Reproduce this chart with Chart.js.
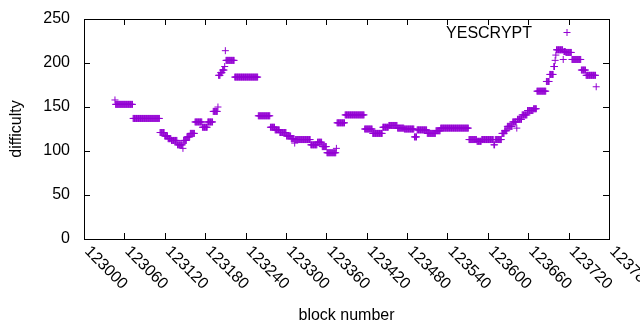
<!DOCTYPE html>
<html>
<head>
<meta charset="utf-8">
<script src="https://cdn.jsdelivr.net/npm/chart.js@4.4.1/dist/chart.umd.min.js"></script>
<style>
  html, body { margin: 0; padding: 0; background: #fff; }
</style>
</head>
<body>
<canvas id="myChart" width="640" height="330"></canvas>
<script>
const getElement = (...queries) => document.querySelector(...queries);
const ctx = getElement('#myChart').getContext('2d');

const seriesName = 'YESCRYPT';
const blockTicks = [123000, 123060, 123120, 123180, 123240, 123300, 123360, 123420, 123480, 123540, 123600, 123660, 123720, 123780];
const difficultyTicks = [0, 50, 100, 150, 200, 250];

// difficulty stays flat between retargets, so the data is kept as runs of blocks
const runFirst = [123046, 123047, 123073, 123113, 123120, 123125, 123130, 123139, 123147, 123148,
  123153, 123158, 123165, 123176, 123184, 123192, 123199, 123200, 123203, 123206,
  123209, 123210, 123211, 123224, 123259, 123277, 123284, 123291, 123301, 123308,
  123313, 123314, 123337, 123347, 123354, 123361, 123375, 123376, 123388, 123417,
  123429, 123444, 123453, 123466, 123476, 123491, 123495, 123510, 123523, 123530,
  123572, 123584, 123591, 123609, 123611, 123621, 123625, 123629, 123637, 123643,
  123644, 123651, 123659, 123668, 123673, 123687, 123692, 123698, 123700, 123701,
  123702, 123712, 123713, 123716, 123725, 123739, 123746, 123761];
const runLast = [123046, 123072, 123112, 123119, 123124, 123129, 123138, 123146, 123147, 123152,
  123157, 123164, 123175, 123183, 123191, 123198, 123199, 123202, 123205, 123208,
  123209, 123210, 123223, 123258, 123276, 123283, 123290, 123300, 123307, 123312,
  123313, 123336, 123346, 123353, 123360, 123374, 123375, 123387, 123416, 123428,
  123443, 123452, 123465, 123475, 123490, 123494, 123509, 123522, 123529, 123571,
  123583, 123590, 123608, 123610, 123620, 123624, 123628, 123636, 123642, 123643,
  123650, 123658, 123667, 123672, 123686, 123691, 123697, 123699, 123700, 123701,
  123711, 123712, 123715, 123724, 123738, 123745, 123760, 123761];
const runDifficulty = [158, 153, 137, 121, 117, 114, 112, 107, 103, 112,
  116, 120, 133, 127, 133, 145, 150, 186, 189, 192,
  196, 214, 203, 184, 140, 127, 124, 121, 117, 114,
  109, 113, 107, 110, 105, 98, 103, 132, 141, 125,
  120, 127, 129, 126, 125, 116, 124, 120, 123, 126,
  113, 111, 113, 107, 113, 120, 123, 128, 133, 126,
  136, 141, 146, 148, 168, 179, 187, 196, 203, 209,
  215, 204, 213, 212, 204, 192, 186, 173];

const points = [];
runFirst.forEach((first, i) => {
  for (let block = first; block <= runLast[i]; block++) {
    points.push({ x: block, y: runDifficulty[i] });
  }
});

const fontFamily = '"Liberation Sans", Arial, sans-serif';
const violet = '#9400d3';

// gnuplot style frame: border, inward ticks on all sides, rotated x labels, key
const gnuplotFrame = {
  id: 'gnuplotFrame',
  afterDraw(chart) {
    const { ctx, chartArea: a, scales: { x, y } } = chart;
    ctx.save();
    ctx.strokeStyle = '#000';
    ctx.lineWidth = 1;
    ctx.strokeRect(a.left + 0.5, a.top + 0.5, a.right - a.left, a.bottom - a.top);

    ctx.beginPath();
    x.ticks.forEach(t => {
      const px = Math.round(x.getPixelForValue(t.value)) + 0.5;
      ctx.moveTo(px, a.bottom); ctx.lineTo(px, a.bottom - 6);
      ctx.moveTo(px, a.top); ctx.lineTo(px, a.top + 6);
    });
    y.ticks.forEach(t => {
      const py = Math.round(y.getPixelForValue(t.value)) + 0.5;
      ctx.moveTo(a.left, py); ctx.lineTo(a.left + 6, py);
      ctx.moveTo(a.right, py); ctx.lineTo(a.right - 6, py);
    });
    ctx.stroke();

    ctx.fillStyle = '#000';
    ctx.font = '16px ' + fontFamily;
    ctx.textAlign = 'left';
    ctx.textBaseline = 'middle';
    x.ticks.forEach(t => {
      const px = x.getPixelForValue(t.value);
      ctx.save();
      ctx.translate(px + 3, a.bottom + 10);
      ctx.rotate(Math.PI / 4);
      ctx.fillText(String(t.value), 0, 0);
      ctx.restore();
    });

    // key
    ctx.textAlign = 'right';
    ctx.textBaseline = 'alphabetic';
    ctx.fillText(seriesName, a.right - 77, a.top + 18.5);
    const kx = a.right - 42, ky = a.top + 13.5;
    ctx.strokeStyle = violet;
    ctx.beginPath();
    ctx.moveTo(kx - 3.5, ky); ctx.lineTo(kx + 3.5, ky);
    ctx.moveTo(kx, ky - 3.5); ctx.lineTo(kx, ky + 3.5);
    ctx.stroke();
    ctx.restore();
  }
};

const config = {
  type: 'scatter',
  data: {
    datasets: [{
      label: seriesName,
      data: points,
      pointStyle: 'cross',
      pointRadius: 3.5,
      pointBorderWidth: 1,
      borderColor: violet,
      backgroundColor: violet,
    }],
  },
  options: {
    responsive: false,
    animation: false,
    layout: { autoPadding: false, padding: { top: 19, right: 31, left: 0, bottom: 0 } },
    plugins: { legend: { display: false }, tooltip: { enabled: false } },
    scales: {
      x: {
        type: 'linear',
        min: blockTicks[0],
        max: blockTicks[blockTicks.length - 1],
        afterBuildTicks: scale => { scale.ticks = blockTicks.map(v => ({ value: v })); },
        afterFit: scale => { scale.height = 91; },
        grid: { display: false, drawTicks: false },
        border: { display: false },
        ticks: { display: false },
        title: {
          display: true,
          text: 'block number',
          color: '#000',
          font: { family: fontFamily, size: 16 },
          padding: { top: 0, bottom: 5 },
        },
      },
      y: {
        min: difficultyTicks[0],
        max: difficultyTicks[difficultyTicks.length - 1],
        afterBuildTicks: scale => { scale.ticks = difficultyTicks.map(v => ({ value: v })); },
        afterFit: scale => { scale.width = 84; },
        grid: { display: false, drawTicks: true, tickLength: 14 },
        border: { display: false },
        ticks: {
          color: '#000',
          padding: 0,
          font: { family: fontFamily, size: 16 },
        },
        title: {
          display: true,
          text: 'difficulty',
          color: '#000',
          font: { family: fontFamily, size: 16 },
          padding: { top: 7, bottom: 0 },
        },
      },
    },
  },
  plugins: [gnuplotFrame],
};

const myChart = new Chart(ctx, config);
</script>
</body>
</html>
